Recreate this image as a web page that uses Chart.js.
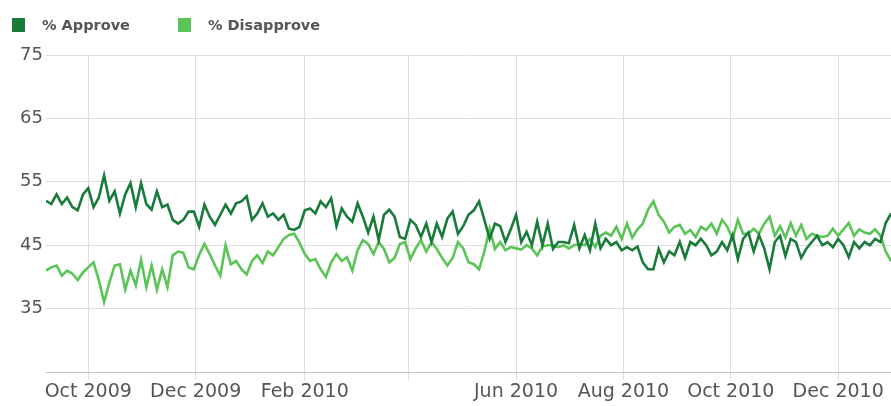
<!DOCTYPE html>
<html>
<head>
<meta charset="utf-8">
<script src="https://cdn.jsdelivr.net/npm/chart.js@4"></script>
<style>
    body { margin: 0; background: #fff; }
    #wrap { position: relative; width: 891px; height: 406px; }
    #legend { position: absolute; left: 0; top: 0; font: bold 14.5px "DejaVu Sans", sans-serif; color: #555; }
    #legend span.item { position: absolute; top: 17px; white-space: nowrap; }
    #legend span.box { display: inline-block; width: 13px; height: 14px; vertical-align: -2px; margin-right: 17px; }
</style>
</head>
<body>
<div id="wrap">
    <canvas id="chart"></canvas>
    <div id="legend"></div>
</div>
<script>
// ngay bat dau (so ngay tinh tu 1/9/2009) va buoc giua cac diem
const startDay = 6
const stepDays = 3

// moc thang tren truc x
const tickDays = [30, 91, 153, 212, 273, 334, 395, 456]
const tickLabels = ['Oct 2009', 'Dec 2009', 'Feb 2010', '', 'Jun 2010', 'Aug 2010', 'Oct 2010', 'Dec 2010']

const yTicks = [75, 65, 55, 45, 35]

const seriesNames = ['% Approve', '% Disapprove']
const seriesColors = ['#187b3a', '#5bc457']

const approve = [
    52, 51.5, 53, 51.5, 52.5, 51, 50.5, 53, 54, 51,
    52.5, 56, 52, 53.5, 50, 53, 54.8, 51, 54.8, 51.5,
    50.6, 53.5, 51, 51.4, 49, 48.4, 49, 50.3, 50.3, 47.9,
    51.4, 49.5, 48.2, 49.8, 51.4, 50, 51.6, 51.9, 52.7, 49,
    50, 51.6, 49.5, 50, 49, 49.8, 47.6, 47.4, 47.9, 50.5,
    50.8, 50, 51.9, 51, 52.4, 48, 50.8, 49.5, 48.7, 51.6,
    49.5, 47, 49.5, 45.8, 49.8, 50.6, 49.5, 46.3, 46, 49,
    48.2, 46.3, 48.4, 45.5, 48.4, 46.3, 49.2, 50.3, 46.8, 48,
    49.8, 50.5, 51.9, 49, 46, 48.4, 48, 45.5, 47.5, 49.8,
    45.5, 47.1, 45, 48.7, 45, 48.4, 44.4, 45.5, 45.5, 45.3,
    48.2, 44.5, 46.6, 44.2, 48.4, 44.5, 46, 45, 45.5, 44.2,
    44.7, 44.2, 44.8, 42.3, 41.2, 41.2, 44.4, 42.3, 44, 43.4,
    45.5, 43, 45.5, 45, 46, 45, 43.4, 44, 45.5, 44.2,
    46.6, 42.8, 46, 47, 44, 46.6, 44.5, 41.2, 45.5, 46.5,
    43.3, 46, 45.5, 43, 44.5, 45.5, 46.5, 45, 45.5, 44.7,
    46, 45, 43.1, 45.5, 44.5, 45.5, 45, 46, 45.5, 48.5,
    50
]

const disapprove = [
    41, 41.5, 41.8, 40.2, 41, 40.5, 39.5, 40.7, 41.5, 42.3,
    39.5, 36, 39.1, 41.8, 42, 38, 41, 38.7, 42.7, 38.4,
    41.8, 38, 41.2, 38.4, 43.4, 44, 43.8, 41.5, 41.2, 43.5,
    45.2, 43.6, 41.8, 40.2, 45, 42, 42.5, 41.2, 40.4, 42.5,
    43.4, 42.2, 44, 43.4, 44.7, 46, 46.6, 46.8, 45.4, 43.6,
    42.5, 42.8, 41.2, 40, 42.3, 43.6, 42.5, 43.1, 41, 44.2,
    45.8, 45.2, 43.6, 45.5, 44.4, 42.3, 43, 45.2, 45.5, 42.8,
    44.5, 45.8, 44, 45.5, 44.4, 43, 41.8, 43, 45.5, 44.5,
    42.3, 42, 41.2, 44, 47.6, 44.4, 45.5, 44.2, 44.7, 44.5,
    44.3, 45, 44.5, 43.4, 44.8, 45, 45, 44.7, 45, 44.5,
    45, 45.2, 45, 46, 44.7, 46.5, 47, 46.5, 47.9, 46,
    48.4, 46.2, 47.5, 48.4, 50.6, 51.9, 49.8, 48.7, 47, 47.9,
    48.2, 46.8, 47.4, 46.3, 47.9, 47.4, 48.4, 46.8, 49, 47.9,
    46, 49, 46.8, 46.8, 47.6, 46.8, 48.4, 49.5, 46.5, 48,
    46.2, 48.5, 46.5, 48.2, 46, 46.8, 46.5, 46.3, 46.5, 47.6,
    46.5, 47.5, 48.5, 46.5, 47.5, 47, 46.8, 47.5, 46.5, 44,
    42.5
]

// Ghep du lieu thanh cap {x, y}
function toPoints(values) {
    let points = []
    for (let i = 0; i < values.length; i++)
        points.push({ x: startDay + i * stepDays, y: values[i] })
    return points
}

// Chu thich dat bang HTML
function setLegend() {
    const lefts = [12, 178]
    let html = ''
    for (let i = 0; i < seriesNames.length; i++)
        html += `<span class="item" style="left:${lefts[i]}px"><span class="box" style="background:${seriesColors[i]}"></span>${seriesNames[i]}</span>`
    document.getElementById('legend').innerHTML = html
}

const gridColor = '#dedede'

function setChart() {
    const ctx = document.getElementById('chart').getContext('2d')
    new Chart(ctx, {
        type: 'line',
        data: {
            datasets: [{
                label: seriesNames[0],
                data: toPoints(approve),
                borderColor: seriesColors[0],
                backgroundColor: seriesColors[0],
                borderWidth: 2.6
            }, {
                label: seriesNames[1],
                data: toPoints(disapprove),
                borderColor: seriesColors[1],
                backgroundColor: seriesColors[1],
                borderWidth: 2.6
            }]
        },
        options: {
            responsive: true,
            maintainAspectRatio: false,
            animation: false,
            parsing: false,
            elements: {
                point: { radius: 0 },
                line: { tension: 0 }
            },
            layout: { padding: { top: 55, left: 0, right: 0, bottom: 0 } },
            plugins: {
                legend: { display: false },
                tooltip: { enabled: false }
            },
            scales: {
                x: {
                    type: 'linear',
                    min: startDay,
                    max: startDay + (approve.length - 1) * stepDays,
                    afterBuildTicks: (scale) => {
                        scale.ticks = tickDays.map(v => ({ value: v }))
                    },
                    afterFit: (scale) => { scale.height = 34 },
                    grid: { color: gridColor, tickLength: 8 },
                    border: { color: '#c4c4c4' },
                    ticks: {
                        autoSkip: false,
                        maxRotation: 0,
                        padding: 1,
                        color: '#555',
                        font: { family: 'DejaVu Sans', size: 19 },
                        callback: (v) => {
                            const idx = tickDays.indexOf(v)
                            return idx >= 0 ? tickLabels[idx] : ''
                        }
                    }
                },
                y: {
                    min: 25,
                    max: 75,
                    afterBuildTicks: (scale) => {
                        scale.ticks = [25].concat(yTicks.slice().reverse()).map(v => ({ value: v }))
                    },
                    afterFit: (scale) => { scale.width = 46 },
                    grid: { color: gridColor, drawTicks: false },
                    border: { display: false },
                    ticks: {
                        padding: 3,
                        color: '#555',
                        font: { family: 'DejaVu Sans', size: 18 },
                        callback: (v) => yTicks.includes(v) ? v : ''
                    }
                }
            }
        }
    })
}

setLegend()
setChart()
</script>
</body>
</html>
